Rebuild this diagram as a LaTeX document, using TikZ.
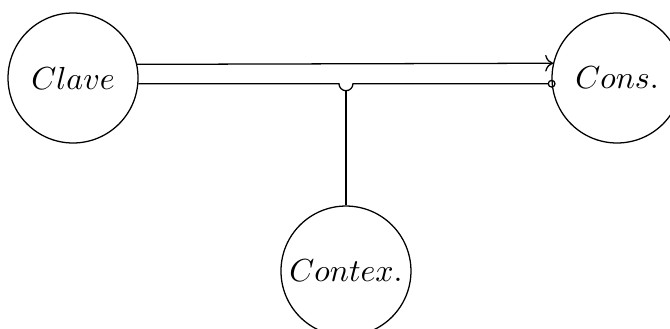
\documentclass[tikz,border=0pt]{standalone}
\usetikzlibrary{arrows.meta}

\tikzset{
  block/.style={draw,circle,minimum size=1.433cm,inner sep=0pt},
}

\begin{document}
\begin{tikzpicture}
\useasboundingbox (0,0) rectangle (7.386,3.627);
\node[block] (clave) at (0.805,2.767) {$Clave$};
\node[block] (cons) at (6.802,2.767) {$Cons.$};
\node[block] (contex) at (3.814,0.639) {$Contex.$};
% upper connection
\draw[->] (clave.12.4) -- (cons.167.6);
% lower connection, hopping over the context line
\coordinate (hop) at (contex |- clave.-5.3);
\draw[-{Circle[open,length=2.5pt]},shorten >=-1.25pt] (clave.-5.3) -- ([xshift=-.077cm]hop) arc (180:360:.077cm) -- (cons.185.3);
\draw (contex.north) -- ([yshift=-.077cm]hop);
\end{tikzpicture}
\end{document}
